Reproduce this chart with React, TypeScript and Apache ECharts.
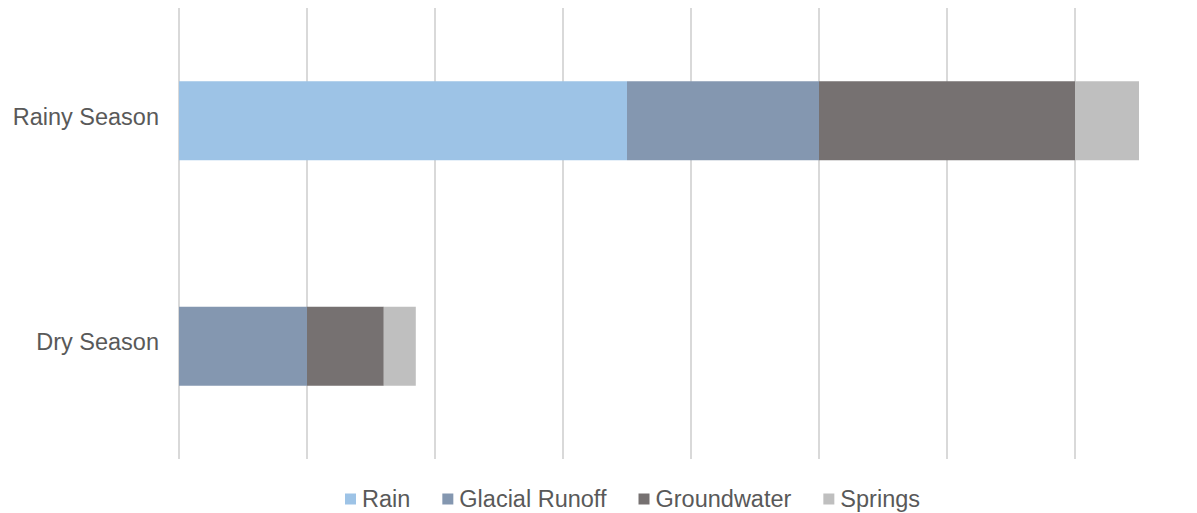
import React, { useEffect, useRef } from "react";
import * as echarts from "echarts";

// Water sources by season (stacked horizontal bars)
const seasons = ["Dry Season", "Rainy Season"];
const rain = [0, 3.5];
const glacialRunoff = [1, 1.5];
const groundwater = [0.6, 2];
const springs = [0.25, 0.5];

const seriesNames = ["Rain", "Glacial Runoff", "Groundwater", "Springs"];
const seriesColors = ["#9dc3e6", "#8497b0", "#767171", "#bfbfbf"];
const seriesValues = [rain, glacialRunoff, groundwater, springs];

const FONT = "'Liberation Sans', Arial, Helvetica, sans-serif";

export default function App() {
  const ref = useRef<HTMLDivElement>(null);

  useEffect(() => {
    document.body.style.margin = "0";
    if (!ref.current) return;
    const chart = echarts.init(ref.current, null, { renderer: "svg" });
    chart.setOption({
      animation: false,
      backgroundColor: "#ffffff",
      textStyle: { fontFamily: FONT },
      grid: { left: 179, right: 58, top: 8, bottom: 54, containLabel: false },
      legend: {
        top: 487,
        left: 345,
        icon: "rect",
        itemWidth: 11,
        itemHeight: 11,
        itemGap: 32,
        padding: 0,
        data: seriesNames,
        textStyle: { color: "#595959", fontSize: 23.5, fontFamily: FONT, padding: [0, 0, 0, 1] },
      },
      xAxis: {
        type: "value",
        min: 0,
        max: 7.5,
        interval: 1,
        axisLabel: { show: false },
        axisLine: { show: false },
        axisTick: { show: false },
        splitLine: {
          show: true,
          showMaxLine: false,
          lineStyle: { color: "#d9d9d9", width: 2 },
        },
      },
      yAxis: {
        type: "category",
        data: seasons,
        axisLine: { show: false },
        axisTick: { show: false },
        axisLabel: {
          color: "#595959",
          fontSize: 23.5,
          fontFamily: FONT,
          margin: 20,
          verticalAlign: "bottom",
          lineHeight: 24,
          padding: [0, 0, -8, 0],
        },
      },
      series: seriesNames.map((name, i) => ({
        name,
        type: "bar",
        stack: "total",
        barWidth: 79,
        itemStyle: { color: seriesColors[i] },
        data: seriesValues[i],
      })),
    });
    return () => chart.dispose();
  }, []);

  return <div ref={ref} style={{ width: 1197, height: 513 }} />;
}
